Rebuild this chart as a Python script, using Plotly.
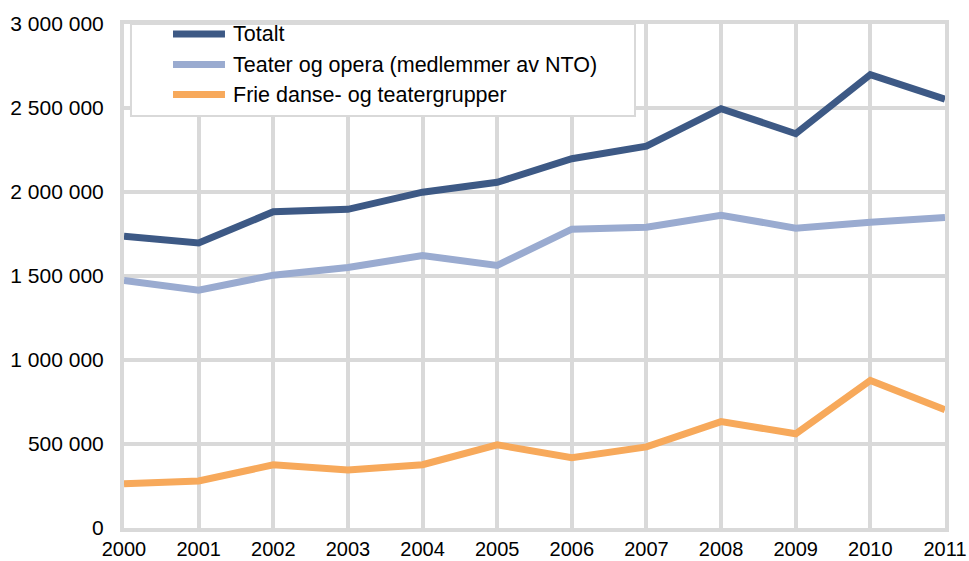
import plotly.graph_objects as go

years = [2000, 2001, 2002, 2003, 2004, 2005, 2006, 2007, 2008, 2009, 2010, 2011]
totalt = [1737000, 1697000, 1882000, 1897000, 1999000, 2058000, 2198000, 2273000, 2496000, 2347000, 2699000, 2552000]
teater = [1474000, 1416000, 1505000, 1551000, 1622000, 1563000, 1779000, 1790000, 1862000, 1785000, 1820000, 1848000]
frie = [263000, 280000, 376000, 346000, 377000, 495000, 418000, 483000, 633000, 561000, 878000, 704000]

series_names = ["Totalt", "Teater og opera (medlemmer av NTO)", "Frie danse- og teatergrupper"]
series_colors = ["#3d5985", "#9aabd0", "#f7a95b"]
series_values = [totalt, teater, frie]

y_ticks = [0, 500000, 1000000, 1500000, 2000000, 2500000, 3000000]

FONT = "Liberation Sans, Arial, sans-serif"
GRID = "#d9d9d9"

fig = go.Figure()
for name, color, vals in zip(series_names, series_colors, series_values):
    fig.add_trace(go.Scatter(
        x=years, y=vals, mode="lines", name=name,
        line=dict(color=color, width=7), showlegend=False,
    ))

# manual legend (box, sample lines, labels)
legend_y = [0.98, 0.9196, 0.86]
shapes = [dict(type="rect", xref="paper", yref="paper", x0=0.0085, x1=0.6224,
               y0=0.8175, y1=1.0, fillcolor="white",
               line=dict(color=GRID, width=2), layer="above")]
annotations = []
for name, color, ly in zip(series_names, series_colors, legend_y):
    shapes.append(dict(type="line", xref="paper", yref="paper", x0=0.0597, x1=0.123,
                       y0=ly, y1=ly, line=dict(color=color, width=7), layer="above"))
    annotations.append(dict(xref="paper", yref="paper", x=0.1303, y=ly, text=name,
                            showarrow=False, xanchor="left", yanchor="middle",
                            font=dict(family=FONT, size=21.5, color="#000000")))

fig.update_layout(
    width=969, height=561,
    margin=dict(l=124, r=24, t=24, b=33, pad=0, autoexpand=False),
    paper_bgcolor="white", plot_bgcolor="white",
    separators=", ",
    font=dict(family=FONT, size=21, color="#000000"),
    shapes=shapes, annotations=annotations,
    showlegend=False,
)
fig.update_xaxes(
    range=[2000, 2011], tickvals=years, ticktext=[str(y) for y in years],
    tickfont=dict(size=20),
    showgrid=True, gridcolor=GRID, gridwidth=4,
    showline=True, linecolor=GRID, linewidth=4, mirror=True,
    zeroline=False, ticks="", ticklabelstandoff=0, automargin=False,
)
fig.update_yaxes(
    range=[0, 3000000], tickvals=y_ticks, tickformat=",d",
    showgrid=True, gridcolor=GRID, gridwidth=4,
    showline=True, linecolor=GRID, linewidth=4, mirror=True,
    zeroline=False, ticks="", ticklabelstandoff=12, automargin=False,
)

fig.write_html(
    "out.html",
    config={"displayModeBar": False},
    post_script="document.body.style.margin='0px';document.body.style.overflow='hidden';",
)
